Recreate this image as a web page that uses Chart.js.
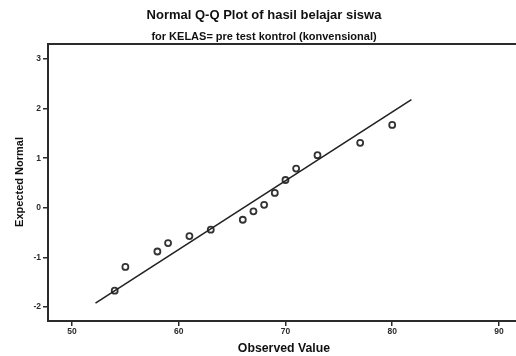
<!DOCTYPE html>
<html>
<head>
<meta charset="utf-8">
<script src="https://cdn.jsdelivr.net/npm/chart.js@4"></script>
<style>
  html, body { margin: 0; padding: 0; background: #fff; }
  #wrap { width: 516px; height: 356px; position: relative; }
</style>
</head>
<body>
<div id="wrap"><canvas id="qq"></canvas></div>
<script>
// Nilai yang dibaca dari gambar
const observedValues = [54, 55, 58, 59, 61, 63, 66, 67, 68, 69, 70, 71, 73, 77, 80];
const expectedNormal = [-1.67, -1.19, -0.88, -0.71, -0.57, -0.44, -0.24, -0.07, 0.06, 0.30, 0.56, 0.79, 1.06, 1.31, 1.67];
// Garis referensi (ujung-ujung)
const lineX = [52.2, 81.8];
const lineY = [-1.92, 2.18];

const titleText = 'Normal Q-Q Plot of hasil belajar siswa';
const subtitleText = 'for KELAS= pre test kontrol (konvensional)';
const xTitle = 'Observed Value';
const yTitle = 'Expected Normal';

const FONT = '"Liberation Sans", Arial, sans-serif';
const INK = '#2b2b2b';

// Judul, bingkai atas dan label sumbu digambar sendiri
const frameAndTitles = {
    id: 'frameAndTitles',
    afterDraw(chart) {
        const { ctx, chartArea } = chart;
        ctx.save();
        // bingkai atas
        ctx.strokeStyle = INK;
        ctx.lineWidth = 2;
        ctx.beginPath();
        ctx.moveTo(chartArea.left - 1, chartArea.top);
        ctx.lineTo(chartArea.right + 20, chartArea.top);
        ctx.stroke();

        ctx.fillStyle = '#111';
        ctx.textAlign = 'center';
        ctx.textBaseline = 'middle';
        ctx.font = 'bold 13px ' + FONT;
        ctx.fillText(titleText, 264, 15);
        ctx.font = 'bold 11px ' + FONT;
        ctx.fillText(subtitleText, 264, 37);

        ctx.font = 'bold 12.3px ' + FONT;
        ctx.fillText(xTitle, 284, 349);
        ctx.font = 'bold 11px ' + FONT;
        ctx.translate(20, 182);
        ctx.rotate(-Math.PI / 2);
        ctx.fillText(yTitle, 0, 0);
        ctx.restore();
    }
};

const points = observedValues.map((x, i) => ({ x: x, y: expectedNormal[i] }));
const linePoints = lineX.map((x, i) => ({ x: x, y: lineY[i] }));

new Chart(document.getElementById('qq'), {
    type: 'scatter',
    data: {
        datasets: [
            {
                type: 'line',
                data: linePoints,
                borderColor: '#222',
                borderWidth: 1.6,
                pointRadius: 0,
                fill: false
            },
            {
                data: points,
                pointRadius: 3,
                pointBorderWidth: 1.8,
                pointBorderColor: '#333',
                pointBackgroundColor: 'rgba(255,255,255,0)'
            }
        ]
    },
    options: {
        responsive: true,
        maintainAspectRatio: false,
        animation: false,
        layout: { autoPadding: false, padding: { top: 44, left: 0, right: 0, bottom: 0 } },
        plugins: {
            legend: { display: false },
            tooltip: { enabled: false }
        },
        scales: {
            x: {
                type: 'linear',
                min: 47.75,
                max: 91.6,
                afterFit: axis => { axis.height = 35; },
                ticks: {
                    stepSize: 10,
                    includeBounds: false,
                    color: INK,
                    font: { family: FONT, size: 8.5, weight: 'bold' },
                    padding: 1,
                    maxRotation: 0
                },
                grid: {
                    drawOnChartArea: false,
                    tickLength: 5,
                    color: INK,
                    lineWidth: 1.5
                },
                border: { color: INK, width: 2 }
            },
            y: {
                type: 'linear',
                min: -2.28,
                max: 3.3,
                afterFit: axis => { axis.width = 48; },
                ticks: {
                    stepSize: 1,
                    includeBounds: false,
                    color: INK,
                    font: { family: FONT, size: 8.5, weight: 'bold' },
                    padding: 2
                },
                grid: {
                    drawOnChartArea: false,
                    tickLength: 5,
                    color: INK,
                    lineWidth: 1.5
                },
                border: { color: INK, width: 2 }
            }
        }
    },
    plugins: [frameAndTitles]
});
</script>
</body>
</html>
